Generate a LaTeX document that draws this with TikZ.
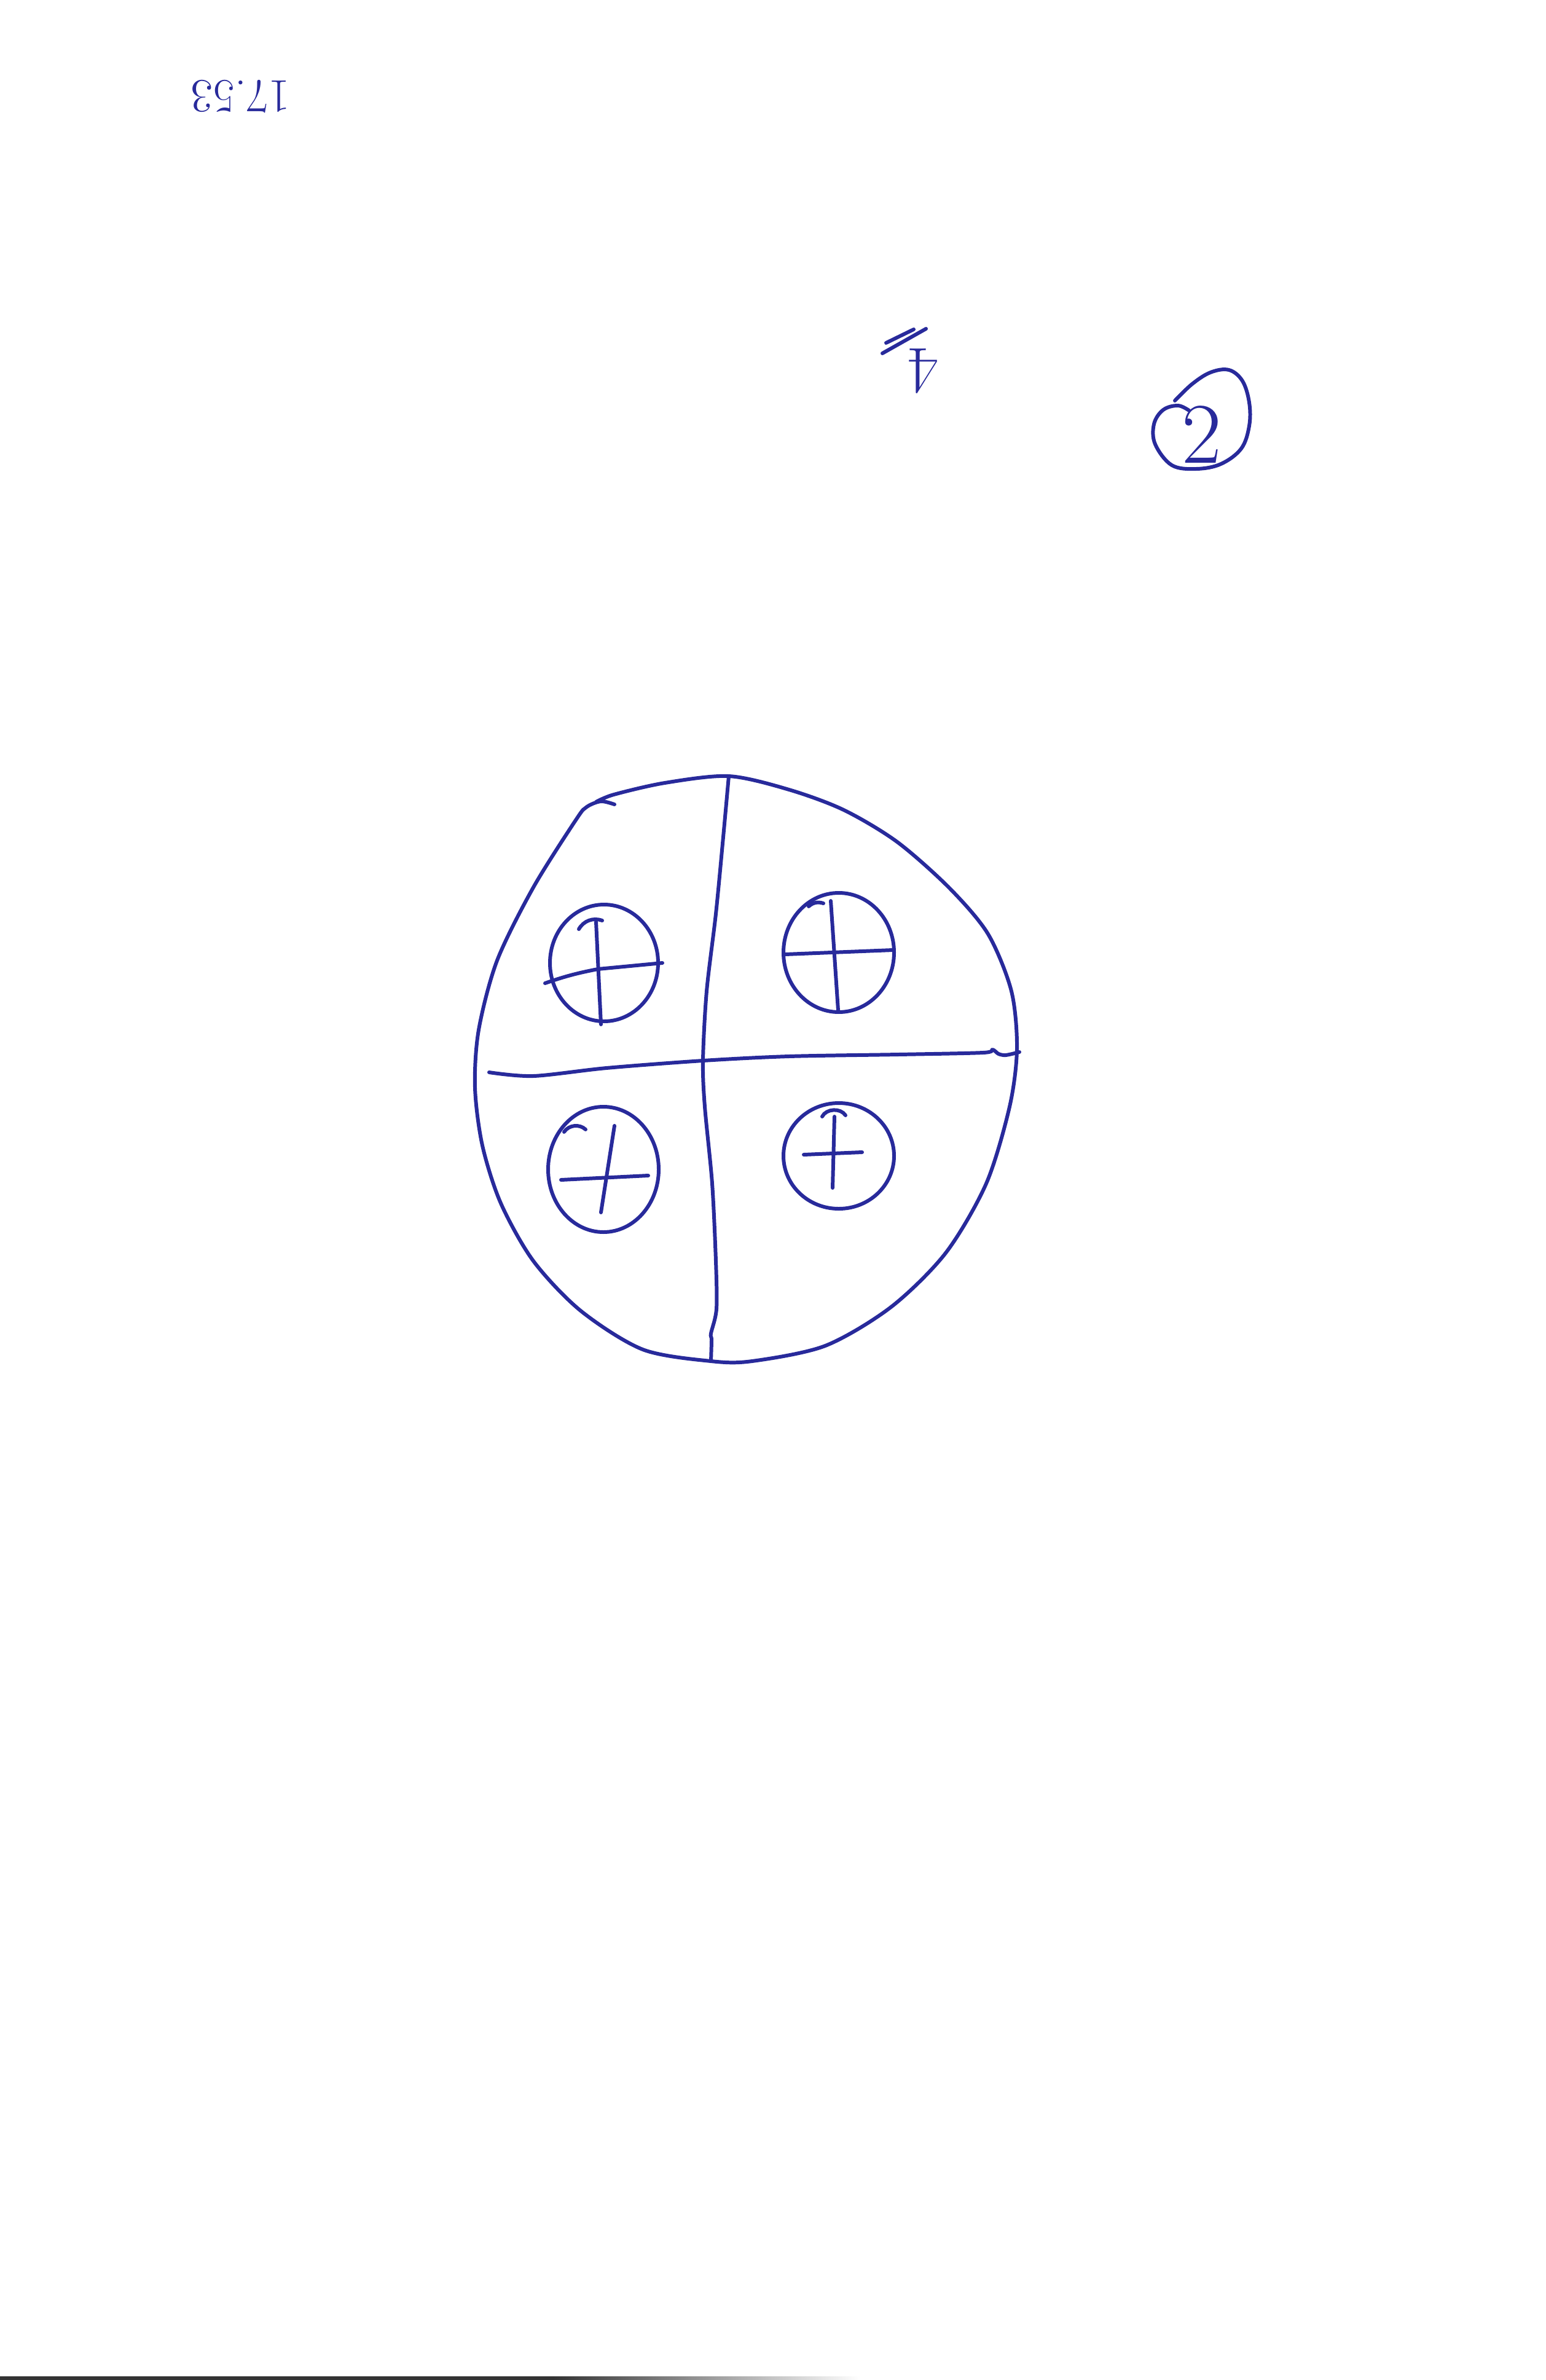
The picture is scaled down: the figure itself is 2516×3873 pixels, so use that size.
\documentclass[tikz,border=0pt]{standalone}
\usepackage{fontspec}
\definecolor{ink}{RGB}{40,42,155}

\begin{document}
\begin{tikzpicture}[x=0.01cm, y=-0.01cm, line width=1.7pt,
  pen/.style={draw=ink, line cap=round, line join=round}]
  \useasboundingbox (0,0) rectangle (2516,3873);
  % anotaciones de la hoja
  \node[rotate=180, text=ink, font=\fontsize{22}{26}\selectfont] (hora) at (392,157) {17.53};
  \node[rotate=180, text=ink, font=\fontsize{31}{34}\selectfont] (cuatro) at (1502,604) {4};
  \draw[pen] (1442,558)--(1487,536); \draw[pen] (1436,575)--(1507,535);
  \node[text=ink, font=\fontsize{40}{44}\selectfont] (dos) at (1956,707) {2};
  \draw[pen] plot[smooth, tension=0.6] coordinates {(1912,652) (1940,625) (1970,606) (2000,602) (2022,620)
    (2033,655) (2033,693) (2020,730) (1987,755) (1947,763) (1907,757) (1880,723) (1878,690) (1893,667)
    (1917,660) (1935,668)};
  % disco exterior
  \draw[pen] plot[smooth] coordinates {(1000,1309) (978,1304) (955,1313) (938,1333) (868,1444) (809,1563)
    (779,1676) (773,1770) (785,1864) (815,1958) (868,2052) (945,2133) (1046,2196) (1157,2215) (1224,2215)
    (1343,2190) (1450,2127) (1539,2039) (1605,1926) (1643,1801) (1655,1707) (1646,1613) (1608,1520)
    (1545,1445) (1460,1370) (1373,1318) (1284,1285) (1186,1263) (1082,1274) (999,1293) (970,1305)};
  % ejes que lo dividen en cuatro
  \draw[pen] plot[smooth] coordinates {(1186,1263) (1177,1362) (1165,1487) (1150,1613) (1144,1726)
    (1147,1801) (1159,1926) (1165,2052) (1166,2130) (1157,2170) (1158,2180) (1157,2215)};
  \draw[pen] plot[smooth] coordinates {(796,1745) (868,1751) (987,1738) (1144,1726) (1284,1719)
    (1462,1716) (1600,1713) (1615,1708) (1625,1715) (1637,1717) (1659,1712)};
  % cargas positivas
  \draw[pen] (983,1567) ellipse [x radius=88, y radius=95];
  \draw[pen] (970,1500)--(978,1667); \draw[pen] (887,1600) to[bend left=4] (973,1577) -- (1078,1567);
  \draw[pen] (942,1512) to[bend left=40] (980,1498);
  \draw[pen] (1365,1550) ellipse [x radius=90, y radius=97];
  \draw[pen] (1352,1466)--(1364,1644); \draw[pen] (1278,1553)--(1453,1546);
  \draw[pen] (1316,1475) to[bend left=30] (1340,1470);
  \draw[pen] (982,1903) ellipse [x radius=90, y radius=102];
  \draw[pen] (1000,1832)--(978,1973); \draw[pen] (913,1920)--(1055,1913);
  \draw[pen] (918,1842) to[bend left=50] (953,1838);
  \draw[pen] (1365,1881) ellipse [x radius=90, y radius=86];
  \draw[pen] (1358,1817)--(1355,1933); \draw[pen] (1308,1879)--(1403,1875);
  \draw[pen] (1338,1817) to[bend left=60] (1376,1815);
  % borde del escaneo
  \fill[black!80] (0,3867) rectangle (900,3873);
  \shade[left color=black!80, right color=white] (900,3867) rectangle (1400,3873);
\end{tikzpicture}
\end{document}
